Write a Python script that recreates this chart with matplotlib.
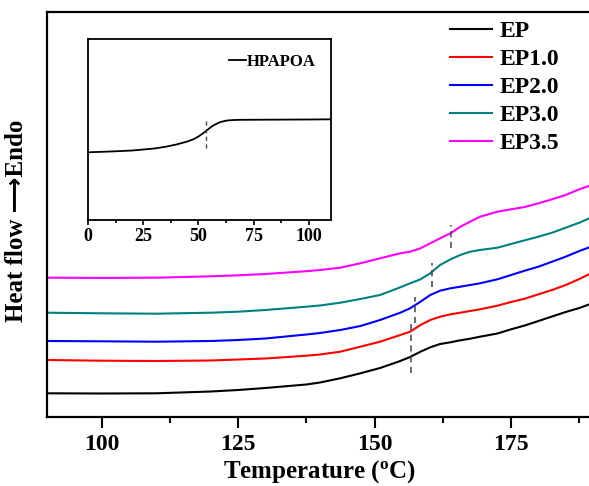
import matplotlib
matplotlib.use("Agg")
import matplotlib.pyplot as plt
from matplotlib.ticker import MultipleLocator

# 字体设置
plt.rcParams['font.family'] = ['Liberation Serif', 'DejaVu Sans']
plt.rcParams['font.weight'] = 'bold'
plt.rcParams['mathtext.fontset'] = 'custom'
plt.rcParams['mathtext.rm'] = 'Liberation Serif:bold'
plt.rcParams['mathtext.it'] = 'Liberation Serif:bold'
plt.rcParams['mathtext.bf'] = 'Liberation Serif:bold'

# DSC 数据（任意单位）
temp = [90, 100, 110, 120, 125, 130, 137.5, 140, 143.7, 147.4, 151.0, 154.7, 156.5, 158.4,
        160.2, 162.0, 163.9, 165.7, 167.5, 169.3, 172.5, 175, 177.5, 180, 182.5, 185,
        187.5, 190]
ep = [23.7, 23.5, 23.7, 25.5, 27, 29, 32.5, 34.5, 38.7, 43.7, 49, 56, 60, 65.3,
      69.7, 73, 74.7, 76.7, 78.3, 80.3, 83.5, 87.7, 91.5, 96, 100.5, 105,
      109, 114]
ep10 = [57, 56.3, 56, 56.5, 57.5, 58.5, 61.3, 62.5, 65.3, 70.3, 75.3, 82, 85.3, 92,
        97, 100.3, 102.7, 104.3, 106, 107.7, 111.3, 115, 118.3, 122.7, 127, 132,
        138, 144.7]
ep20 = [76, 75.7, 75.3, 76, 77, 78.5, 82.5, 84, 87, 91, 97, 104.3, 108.7, 115.3,
        122, 126.3, 128.7, 130.3, 132, 133.7, 137.7, 142, 146.3, 150.3, 155.3, 160.3,
        166, 171]
ep30 = [104.3, 103.7, 103.3, 104.3, 105.3, 107, 110.3, 111.5, 114.3, 118, 122, 129.7, 133.7, 137.7,
        143.7, 152, 157.7, 162, 165.3, 167, 169.3, 173, 176.7, 180.3, 184.3, 189.3,
        194.3, 200.3]
ep35 = [139.3, 139.1, 139.3, 140.7, 141.7, 143, 145.8, 147, 149.3, 153.7, 158.7, 163.7, 165.3, 168.7,
        173.7, 178.7, 183.7, 190.3, 195.3, 200.3, 205.3, 207.7, 210, 213.7, 217.7, 222,
        227.7, 232.5]

series = [("EP", ep, "black"), ("EP1.0", ep10, "red"), ("EP2.0", ep20, "blue"),
          ("EP3.0", ep30, "#008080"), ("EP3.5", ep35, "magenta")]

# Tg 标记线: (温度, 下端, 上端)
tg_marks = [(156.6, 44, 94), (157.4, 94, 120), (160.5, 130, 154), (164.0, 169, 192)]

# 插图 HPAPOA
temp_in = [0, 10, 20, 30, 35, 40, 45, 48, 50, 52, 54, 56, 58, 60, 63, 66, 70, 80, 90, 100, 110]
hpapoa = [67.7, 68.5, 69.5, 71.5, 73.2, 75.5, 78.5, 81, 83.5, 86.5, 90, 93.5, 96, 98, 99.5,
          100, 100.2, 100.3, 100.4, 100.5, 100.7]
tg_in = (53.3, 72, 102)

fig = plt.figure(figsize=(5.89, 4.86), dpi=100)
ax = fig.add_axes([47 / 589, 69 / 486, 546 / 589, 405 / 486])

for name, vals, c in series:
    ax.plot(temp, vals, color=c, lw=1.5, label=name)
for t, y0, y1 in tg_marks:
    ax.plot([t, t], [y0, y1], color="#444444", lw=1.1, ls=(0, (4, 3)))

ax.set_xlim(90, 190)
ax.set_ylim(0, 405)
ax.xaxis.set_major_locator(MultipleLocator(25))
ax.xaxis.set_minor_locator(MultipleLocator(12.5))
ax.set_yticks([])
ax.tick_params(axis='x', which='major', direction='out', length=8, width=1.5,
               labelsize=17, pad=4)
ax.tick_params(axis='x', which='minor', direction='out', length=4, width=1.5)
for s in ax.spines.values():
    s.set_linewidth(1.6)

ax.set_xlabel("Temperature ($^{\\rm o}$C)", fontsize=18, fontweight='bold', labelpad=2.5)
ax.set_ylabel("Heat flow \u27f6Endo", fontsize=18, fontweight='bold')
ax.yaxis.set_label_coords(-0.035, 0.484)

ax.legend(loc='upper left', bbox_to_anchor=(0.738, 0.978), frameon=False,
          fontsize=17, handlelength=1.8, handletextpad=0.3, labelspacing=0.27,
          borderpad=0, borderaxespad=0)

# 插图
axin = fig.add_axes([88.3 / 589, 266 / 486, 242.3 / 589, 180.7 / 486])
axin.plot(temp_in, hpapoa, color="black", lw=1.3, label="HPAPOA")
axin.plot([tg_in[0], tg_in[0]], [tg_in[1], tg_in[2]], color="#444444", lw=1.0,
          ls=(0, (3, 2.5)))
axin.set_xlim(0, 110)
axin.set_ylim(0, 180.7)
axin.xaxis.set_major_locator(MultipleLocator(25))
axin.xaxis.set_minor_locator(MultipleLocator(12.5))
axin.set_yticks([])
axin.tick_params(axis='x', which='major', direction='out', length=3.5, width=1.2,
                 labelsize=13, pad=2)
axin.tick_params(axis='x', which='minor', direction='out', length=2, width=1.2)
for s in axin.spines.values():
    s.set_linewidth(1.3)
axin.legend(loc='upper right', bbox_to_anchor=(0.94, 0.918), frameon=False,
            fontsize=12, handlelength=1.05, handletextpad=0.05,
            borderpad=0, borderaxespad=0)

fig.savefig("out.png", dpi=100)
